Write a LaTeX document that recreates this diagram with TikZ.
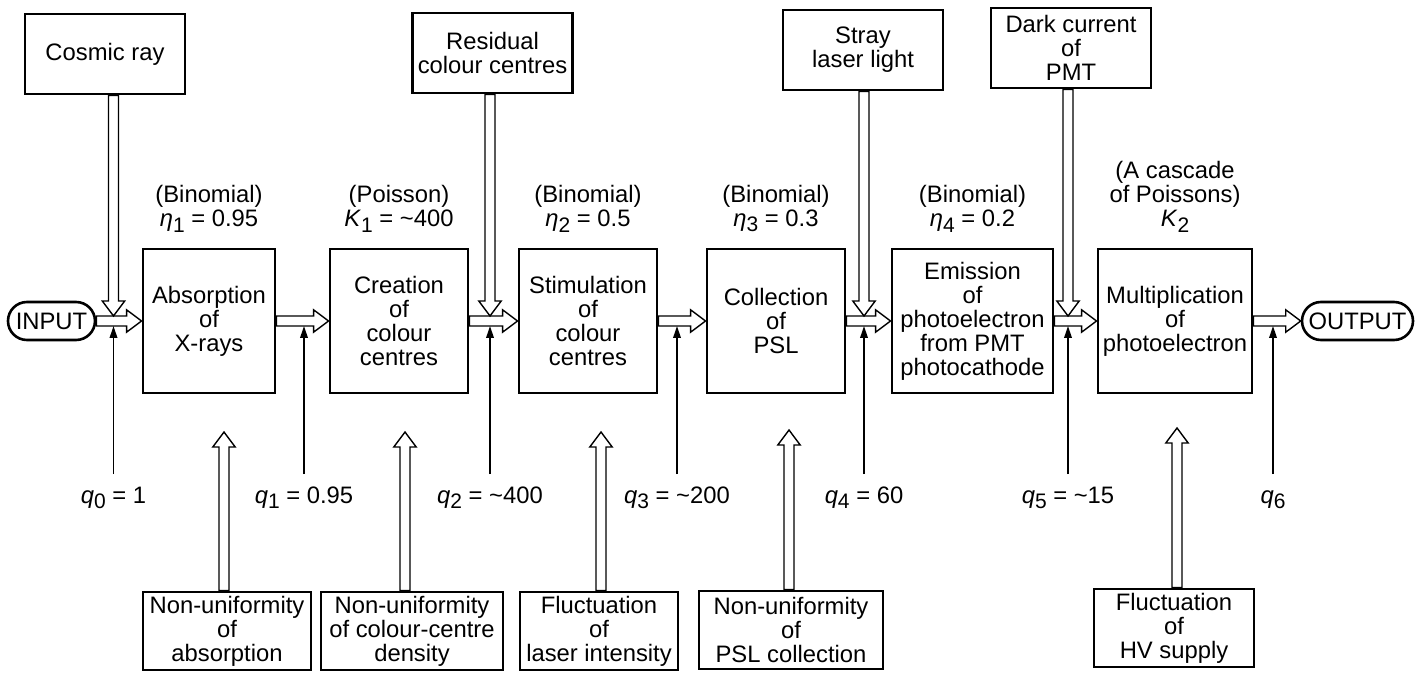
\documentclass[tikz,border=0pt]{standalone}
\usepackage{fontspec}
\setmainfont{Liberation Sans}
\usetikzlibrary{positioning}
\usetikzlibrary{calc}
\usetikzlibrary{arrows.meta}

\newcommand{\arrshaft}{2.5}
\newcommand{\arrhead}{5.6}
\newcommand{\arrlen}{7.5}
\newcommand{\sbs}[1]{\raisebox{-2.6pt}{\fontsize{10.5}{10.5}\selectfont #1}}

\begin{document}
\begin{tikzpicture}[x=0.5pt, y=-0.5pt,
    font=\fontsize{11.9}{12}\selectfont,
    box/.style={draw, line width=1.45pt, align=center, inner sep=1pt},
    mainbox/.style={box, minimum height=72pt},
    srcbox/.style={box, minimum width=80pt, minimum height=40pt},
    noisebox/.style={box, minimum height=39pt},
    pill/.style={draw, line width=1.3pt, rounded corners=9.5pt, minimum height=19pt, inner sep=1pt},
    param/.style={align=center, inner sep=0pt},
    qlab/.style={inner sep=0pt, inner ysep=6pt, anchor=north, text height=8.6pt, text depth=3pt},
    thinarr/.style={line width=0.8pt, -{Triangle[length=6pt, width=3.8pt]}},
    hollow/.style={draw, fill=white, line width=0.7pt, to path={
        let \p1=(\tikztostart), \p2=(\tikztotarget),
            \n1={veclen(\x2-\x1,\y2-\y1)},
            \n2={(\x2-\x1)/\n1}, \n3={(\y2-\y1)/\n1},
            \n4={\n1-\arrlen} in
        ({\x1-\arrshaft*\n3},{\y1+\arrshaft*\n2}) --
        ({\x1+\n4*\n2-\arrshaft*\n3},{\y1+\n4*\n3+\arrshaft*\n2}) --
        ({\x1+\n4*\n2-\arrhead*\n3},{\y1+\n4*\n3+\arrhead*\n2}) --
        (\p2) --
        ({\x1+\n4*\n2+\arrhead*\n3},{\y1+\n4*\n3-\arrhead*\n2}) --
        ({\x1+\n4*\n2+\arrshaft*\n3},{\y1+\n4*\n3-\arrshaft*\n2}) --
        ({\x1+\arrshaft*\n3},{\y1-\arrshaft*\n2}) -- cycle}}
]
    \useasboundingbox (0,0) rectangle (1423,673);

    % Main chain of stages
    \node[pill, minimum width=43.5pt] (inp) at (51.5,321) {INPUT};
    \node[mainbox, minimum width=66pt] (abs) at (209,321) {Absorption\\of\\X-rays};
    \node[mainbox, minimum width=69pt] (cre) at (399,321) {Creation\\of\\colour\\centres};
    \node[mainbox, minimum width=69pt] (sti) at (588,321) {Stimulation\\of\\colour\\centres};
    \node[mainbox, minimum width=69pt] (col) at (776,321) {Collection\\of\\PSL};
    \node[mainbox, minimum width=80.5pt] (emi) at (972.5,321) {Emission\\of\\photoelectron\\from PMT\\photocathode};
    \node[mainbox, minimum width=77pt] (mul) at (1175,321) {Multiplication\\of\\photoelectron};
    \node[pill, minimum width=55.5pt] (out) at (1357.5,321) {OUTPUT};

    % Statistics of each stage
    \node[param, above=7.5pt of abs] (eta1) {(Binomial)\\\textit{η}\sbs{1} = 0.95};
    \node[param, above=7.5pt of cre] (k1) {(Poisson)\\\textit{K}\sbs{1} = \textasciitilde400};
    \node[param, above=7.5pt of sti] (eta2) {(Binomial)\\\textit{η}\sbs{2} = 0.5};
    \node[param, above=7.5pt of col] (eta3) {(Binomial)\\\textit{η}\sbs{3} = 0.3};
    \node[param, above=7.5pt of emi] (eta4) {(Binomial)\\\textit{η}\sbs{4} = 0.2};
    \node[param, above=7.5pt of mul] (k2) {(A cascade\\of Poissons)\\\textit{K}\sbs{2}};

    % Sources of extra signal (top)
    \node[srcbox] (cosmic) at (105,54) {Cosmic ray};
    \node[srcbox] (resid) at (492.5,53) {Residual\\colour centres};
    \node[srcbox] (stray) at (863,50) {Stray\\laser light};
    \node[srcbox] (dark) at (1071,48) {Dark current\\of\\PMT};

    % Sources of fluctuation (bottom)
    \node[noisebox, minimum width=84pt] (nabs) at (227,631) {Non-uniformity\\of\\absorption};
    \node[noisebox, minimum width=91pt] (ncc) at (412,631) {Non-uniformity\\of colour-centre\\density};
    \node[noisebox, minimum width=79pt] (flas) at (599,631) {Fluctuation\\of\\laser intensity};
    \node[noisebox, minimum width=92pt] (npsl) at (791,630) {Non-uniformity\\of\\PSL collection};
    \node[noisebox, minimum width=80pt] (fhv) at (1174,628) {Fluctuation\\of\\HV supply};

    % Junctions on the main line
    \foreach \k/\px in {0/113.5, 1/304, 2/490, 3/677, 4/864, 5/1068, 6/1273} {
        \coordinate (t\k) at (\px,316);
        \coordinate (b\k) at (\px,326);
    }
    \foreach \k/\px/\py in {1/224/432, 2/405/432, 3/601/432, 4/789/430, 6/1177/428}
        \coordinate (u\k) at (\px,\py);

    % Signal flow
    \draw[hollow] (inp.east) to (abs.west);
    \draw[hollow] (abs.east) to (cre.west);
    \draw[hollow] (cre.east) to (sti.west);
    \draw[hollow] (sti.east) to (col.west);
    \draw[hollow] (col.east) to (emi.west);
    \draw[hollow] (emi.east) to (mul.west);
    \draw[hollow] (mul.east) to (out.west);

    % Added signal
    \draw[hollow] (cosmic.south -| t0) to (t0);
    \draw[hollow] (resid.south -| t2) to (t2);
    \draw[hollow] (stray.south -| t4) to (t4);
    \draw[hollow] (dark.south -| t5) to (t5);

    % Fluctuations
    \draw[hollow] (nabs.north -| u1) to (u1);
    \draw[hollow] (ncc.north -| u2) to (u2);
    \draw[hollow] (flas.north -| u3) to (u3);
    \draw[hollow] (npsl.north -| u4) to (u4);
    \draw[hollow] (fhv.north -| u6) to (u6);

    % Quanta per stage
    \foreach \k/\px/\val in {0/113.5/= 1, 1/304/= 0.95, 2/490/= \textasciitilde400,
                             3/677/= \textasciitilde200, 4/864/= 60, 5/1068/= \textasciitilde15} {
        \node[qlab] (q\k) at (\px,474) {\textit{q}\sbs{\k} \val};
        \draw[thinarr] (q\k) -- (b\k);
    }
    \node[qlab] (q6) at (1273,474) {\textit{q}\sbs{6}};
    \draw[thinarr] (q6) -- (b6);
\end{tikzpicture}
\end{document}
